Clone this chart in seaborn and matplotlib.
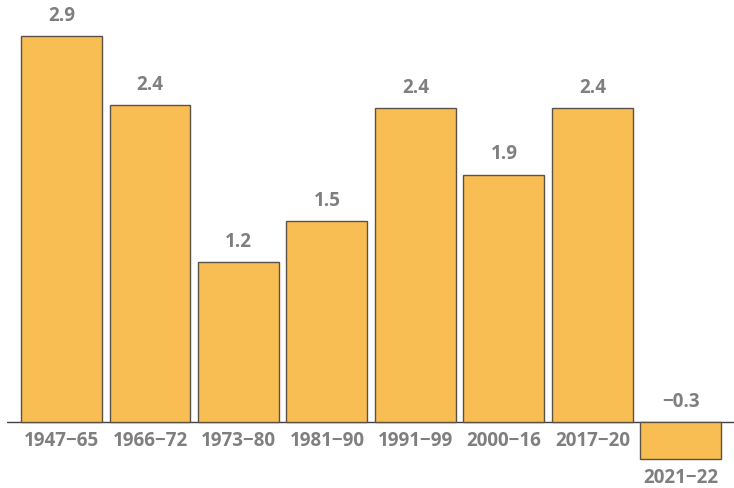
import matplotlib
matplotlib.use('Agg')
import matplotlib.pyplot as plt
import seaborn as sns
import pandas as pd

# 数据
periods = ['1947−65', '1966−72', '1973−80', '1981−90', '1991−99', '2000−16', '2017−20', '2021−22']
growth = [2.9, 2.38, 1.2, 1.51, 2.36, 1.86, 2.36, -0.28]

df = pd.DataFrame({'period': periods, 'growth': growth})

sns.set_style('white')
plt.rcParams['font.family'] = ['Open Sans', 'DejaVu Sans']

fig = plt.figure(figsize=(7.34, 4.88), dpi=100)
ax = fig.add_axes([7 / 734, 0, 727 / 734, 1])

sns.barplot(data=df, x='period', y='growth', color='#F9BE53', saturation=1,
            width=0.915, edgecolor='#5A5247', linewidth=1.0, ax=ax)

ax.set_xlim(-0.616, 7.6)
ax.set_ylim(-0.496, 3.173)
ax.axhline(0, color='#404040', lw=1.0, zorder=0)

text_color = '#7F7F7F'
for i, (p, v) in enumerate(zip(periods, growth)):
    # 数值标签
    lab = f'{v:.1f}'.replace('-', '−')
    ax.annotate(lab, (i, max(v, 0)), xytext=(0, 14.5), textcoords='offset points',
                ha='center', va='center', fontsize=13.5, fontweight='bold', color=text_color)
    # 类别标签
    ax.annotate(p, (i, min(v, 0)), xytext=(0, -13.5), textcoords='offset points',
                ha='center', va='center', fontsize=13.5, fontweight='bold', color=text_color)

ax.set_xticks([])
ax.set_yticks([])
ax.set_xlabel('')
ax.set_ylabel('')
for s in ax.spines.values():
    s.set_visible(False)

fig.savefig('out.png', dpi=100)
